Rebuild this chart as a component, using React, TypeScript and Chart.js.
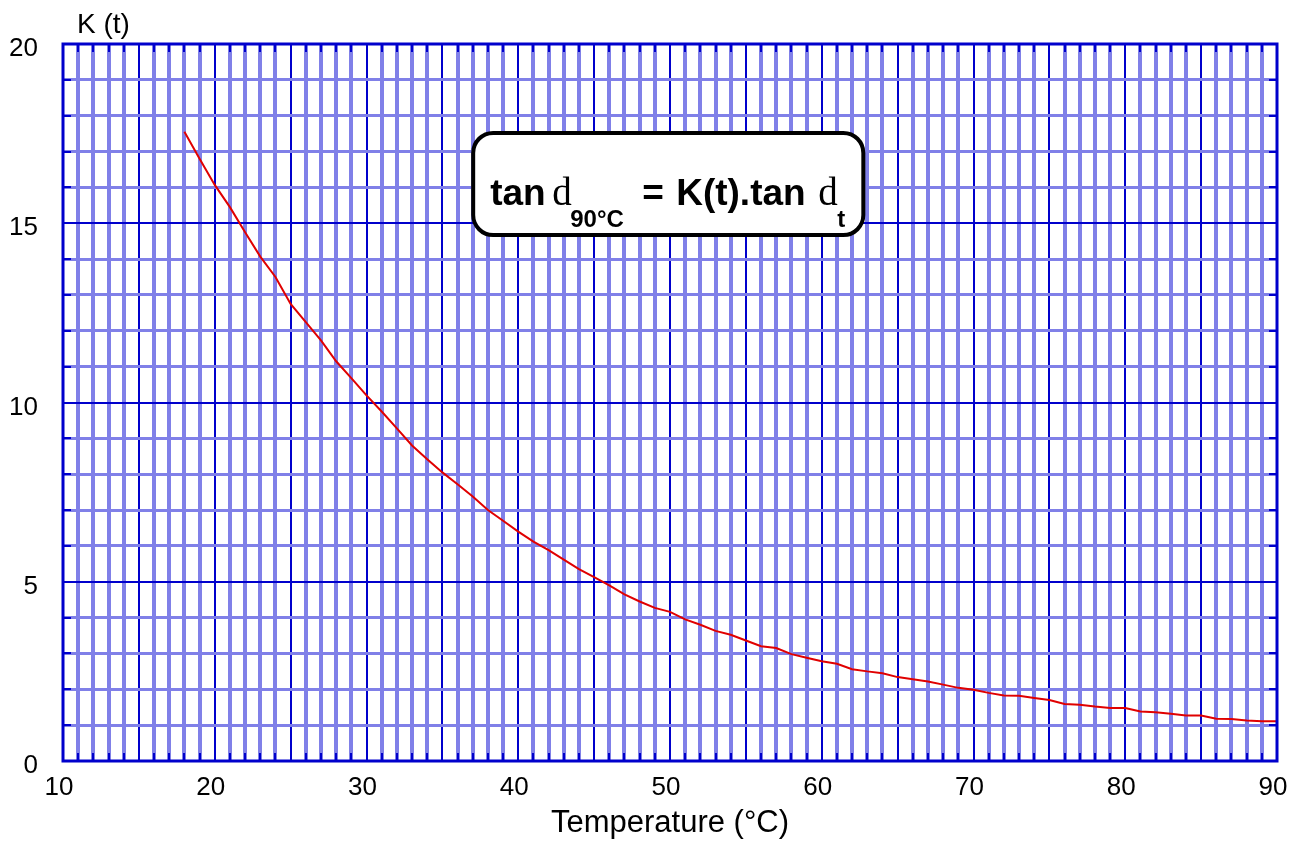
import React, { useEffect, useRef } from 'react';
import { Chart, registerables } from 'chart.js';

Chart.register(...registerables);

// ---- data ----
const temperatures = [
  18, 19, 20, 21, 22, 23, 24, 25, 26, 27, 28, 29, 30, 31, 32, 33, 34, 35, 36, 37,
  38, 39, 40, 41, 42, 43, 44, 45, 46, 47, 48, 49, 50, 51, 52, 53, 54, 55, 56, 57,
  58, 59, 60, 61, 62, 63, 64, 65, 66, 67, 68, 69, 70, 71, 72, 73, 74, 75, 76, 77,
  78, 79, 80, 81, 82, 83, 84, 85, 86, 87, 88, 89, 90,
];
const kValues = [
  17.55, 16.8, 16.07, 15.45, 14.75, 14.07, 13.5, 12.75, 12.24, 11.73, 11.15, 10.68, 10.2, 9.75, 9.28, 8.8, 8.42, 8.05, 7.72, 7.38,
  7.0, 6.7, 6.4, 6.12, 5.88, 5.62, 5.35, 5.13, 4.9, 4.65, 4.45, 4.27, 4.16, 3.95, 3.8, 3.63, 3.52, 3.36, 3.2, 3.15,
  2.98, 2.88, 2.78, 2.71, 2.56, 2.5, 2.45, 2.34, 2.28, 2.22, 2.13, 2.04, 1.99, 1.9, 1.83, 1.82, 1.76, 1.7, 1.59, 1.57,
  1.52, 1.48, 1.48, 1.38, 1.36, 1.32, 1.27, 1.27, 1.18, 1.17, 1.13, 1.11, 1.11,
];
const xTickLabels = [10, 20, 30, 40, 50, 60, 70, 80, 90];
const yTickLabels = [0, 5, 10, 15, 20];
const xAxisTitle = 'Temperature (°C)';
const yAxisTitle = 'K (t)';
// formula box corners in data units (temperature, K)
const boxCorners = { t0: 37.03, t1: 62.74, k0: 17.52, k1: 14.67 };

const DARK = '#0000cc';
const LIGHT = '#8080e8';
const SANS = '"Liberation Sans", Arial, sans-serif';
const SERIF = '"Liberation Serif", "Times New Roman", serif';

const framePlugin = {
  id: 'frame',
  afterDatasetsDraw(chart: any) {
    const { ctx, chartArea, scales } = chart;
    const { left, right, top, bottom } = chartArea;
    const xs = scales.x;
    const ys = scales.y;
    ctx.save();
    ctx.strokeStyle = DARK;
    ctx.lineWidth = 2;
    ctx.beginPath();
    for (let v = xs.min + 1; v < xs.max; v++) {
      const px = Math.round(xs.getPixelForValue(v));
      const len = v % 5 === 0 ? 16 : 8;
      ctx.moveTo(px, bottom);
      ctx.lineTo(px, bottom - len);
      ctx.moveTo(px, top);
      ctx.lineTo(px, top + 8);
    }
    for (let v = ys.min + 1; v < ys.max; v++) {
      const py = Math.round(ys.getPixelForValue(v));
      ctx.moveTo(left, py);
      ctx.lineTo(left + 8, py);
      ctx.moveTo(right, py);
      ctx.lineTo(right - 8, py);
    }
    ctx.stroke();
    ctx.lineWidth = 3;
    ctx.strokeRect(left, top, right - left, bottom - top);
    ctx.restore();
  },
  afterDraw(chart: any) {
    const { ctx, chartArea, scales } = chart;
    const xs = scales.x;
    const ys = scales.y;
    ctx.save();
    // y axis label
    ctx.fillStyle = '#000';
    ctx.font = `28px ${SANS}`;
    ctx.textBaseline = 'alphabetic';
    ctx.textAlign = 'left';
    ctx.fillText(yAxisTitle, chartArea.left + 14, chartArea.top - 11);

    // formula box
    const bx0 = xs.getPixelForValue(boxCorners.t0);
    const bx1 = xs.getPixelForValue(boxCorners.t1);
    const by0 = ys.getPixelForValue(boxCorners.k0);
    const by1 = ys.getPixelForValue(boxCorners.k1);
    ctx.beginPath();
    (ctx as any).roundRect(bx0, by0, bx1 - bx0, by1 - by0, 20);
    ctx.fillStyle = '#fff';
    ctx.fill();
    ctx.lineWidth = 4;
    ctx.strokeStyle = '#000';
    ctx.stroke();

    ctx.fillStyle = '#000';
    const base = by0 + 72;
    const sub = by0 + 94;
    ctx.font = `bold 37px ${SANS}`;
    ctx.fillText('tan', bx0 + 17, base);
    ctx.font = `39px ${SERIF}`;
    ctx.fillText('d', bx0 + 79, base);
    ctx.font = `bold 24px ${SANS}`;
    ctx.fillText('90°C', bx0 + 97, sub);
    ctx.font = `bold 37px ${SANS}`;
    ctx.fillText('=', bx0 + 169, base);
    ctx.fillText('K(t).tan', bx0 + 203, base);
    ctx.font = `39px ${SERIF}`;
    ctx.fillText('d', bx0 + 345, base);
    ctx.font = `bold 24px ${SANS}`;
    ctx.fillText('t', bx0 + 364, sub);
    ctx.restore();
  },
};

export default function App() {
  const ref = useRef<HTMLCanvasElement | null>(null);
  useEffect(() => {
    if (!ref.current) return;
    const chart = new Chart(ref.current, {
      type: 'line',
      data: {
        datasets: [
          {
            data: temperatures.map((t, i) => ({ x: t, y: kValues[i] })),
            borderColor: '#e00000',
            borderWidth: 2,
            pointRadius: 0,
            tension: 0,
            fill: false,
          },
        ],
      },
      options: {
        responsive: false,
        animation: false,
        events: [],
        layout: { padding: { top: 44, right: 15, left: 0, bottom: 0 } },
        plugins: { legend: { display: false }, tooltip: { enabled: false }, title: { display: false } },
        scales: {
          x: {
            type: 'linear',
            min: 10,
            max: 90,
            afterFit: (s: any) => {
              s.height = 85;
              s.paddingLeft = 0;
              s.paddingRight = 0;
            },
            ticks: {
              stepSize: 1,
              autoSkip: false,
              maxTicksLimit: 200,
              maxRotation: 0,
              padding: 11,
              labelOffset: -4,
              color: '#000',
              font: { family: SANS, size: 26 },
              callback: (v: any) => (xTickLabels.includes(Number(v)) ? String(v) : ''),
            },
            grid: {
              drawTicks: false,
              color: (c: any) => (c.tick && c.tick.value % 5 === 0 ? DARK : LIGHT),
              lineWidth: (c: any) => (c.tick && c.tick.value % 5 === 0 ? 2 : 4),
            },
            border: { display: false },
            title: {
              display: true,
              text: xAxisTitle,
              color: '#000',
              font: { family: SANS, size: 31 },
              padding: { top: 0, bottom: 4 },
            },
          },
          y: {
            type: 'linear',
            min: 0,
            max: 20,
            afterFit: (s: any) => {
              s.width = 63;
              s.paddingTop = 0;
              s.paddingBottom = 0;
            },
            ticks: {
              stepSize: 1,
              autoSkip: false,
              maxTicksLimit: 200,
              padding: 25,
              labelOffset: 5,
              color: '#000',
              font: { family: SANS, size: 26 },
              callback: (v: any) => (yTickLabels.includes(Number(v)) ? String(v) : ''),
            },
            grid: {
              drawTicks: false,
              color: (c: any) => (c.tick && c.tick.value % 5 === 0 ? DARK : LIGHT),
              lineWidth: (c: any) => (c.tick && c.tick.value % 5 === 0 ? 2 : 3),
            },
            border: { display: false },
          },
        },
      },
      plugins: [framePlugin],
    });
    return () => chart.destroy();
  }, []);
  return (
    <div style={{ position: 'absolute', left: 0, top: 0, width: 1292, height: 846, background: '#fff' }}>
      <canvas ref={ref} width={1292} height={846} style={{ display: 'block' }} />
    </div>
  );
}
